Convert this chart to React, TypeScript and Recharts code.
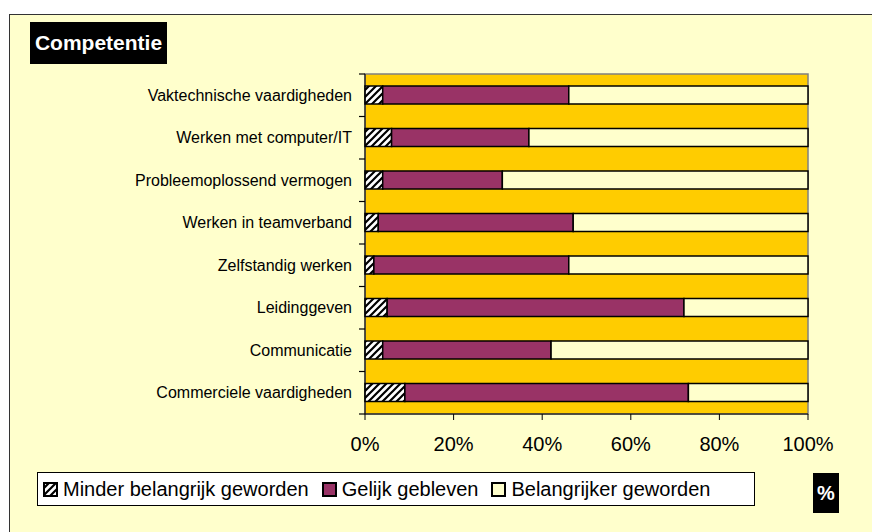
import React from 'react';
import { BarChart, Bar, XAxis, YAxis, ReferenceArea, Legend } from 'recharts';

const categories = [
  'Vaktechnische vaardigheden',
  'Werken met computer/IT',
  'Probleemoplossend vermogen',
  'Werken in teamverband',
  'Zelfstandig werken',
  'Leidinggeven',
  'Communicatie',
  'Commerciele vaardigheden',
];

const minderBelangrijk = [4, 6, 4, 3, 2, 5, 4, 9];
const gelijkGebleven = [42, 31, 27, 44, 44, 67, 38, 64];
const belangrijker = [54, 63, 69, 53, 54, 28, 58, 27];

const xTicks = [0, 20, 40, 60, 80, 100];

const seriesNames = ['Minder belangrijk geworden', 'Gelijk gebleven', 'Belangrijker geworden'];
const seriesKeys = ['minder', 'gelijk', 'meer'];
const seriesFills = ['url(#hatch)', '#993366', '#FFFFCC'];

const data = categories.map((name, i) => ({
  name,
  minder: minderBelangrijk[i],
  gelijk: gelijkGebleven[i],
  meer: belangrijker[i],
}));

const FONT = '"Liberation Sans", Arial, sans-serif';

// category labels plus small tick marks at the band borders (Excel style)
function CategoryTick(props: any) {
  const { x, y, payload, index } = props;
  const half = typeof payload.offset === 'number' && payload.offset > 0 ? payload.offset : 21.25;
  const axisX = x + 13;
  return (
    <g>
      <text x={x} y={y} dy="0.35em" textAnchor="end" fontSize={16} fill="#000" fontFamily={FONT}>
        {payload.value}
      </text>
      <path d={`M${axisX - 6},${y + half}H${axisX}`} stroke="#000" strokeWidth={1.2} fill="none" />
      {index === 0 && <path d={`M${axisX - 6},${y - half}H${axisX}`} stroke="#000" strokeWidth={1.2} fill="none" />}
    </g>
  );
}

function LegendBox(props: any) {
  const payload = props.payload || [];
  // keep the series order of the original legend
  const items = seriesKeys
    .map((k, i) => ({ key: k, fill: seriesFills[i], item: payload.find((p: any) => p.dataKey === k) }))
    .filter((d) => d.item);
  return (
    <div
      style={{
        background: '#fff',
        border: '1px solid #000',
        height: 32,
        width: 711,
        display: 'flex',
        alignItems: 'center',
        paddingLeft: 5,
        fontFamily: FONT,
        fontSize: 20,
        color: '#000',
        boxSizing: 'content-box',
      }}
    >
      {items.map((d) => (
        <span key={d.key} style={{ display: 'flex', alignItems: 'center', marginRight: 13 }}>
          <svg width={15} height={15} style={{ marginRight: 5 }}>
            <rect x={1} y={1} width={13} height={13} fill={d.fill} stroke="#000" strokeWidth={2} />
          </svg>
          {d.item.value}
        </span>
      ))}
    </div>
  );
}

export default function App() {
  return (
    <div style={{ position: 'absolute', left: 0, top: 0, width: 872, height: 532, background: '#fff', overflow: 'hidden' }}>
      <div
        style={{
          position: 'absolute',
          left: 9,
          top: 14,
          width: 900,
          height: 540,
          background: '#FFFFCC',
          border: '1px solid #333',
        }}
      />
      <div style={{ position: 'absolute', left: 0, top: 0 }}>
        <BarChart
          width={872}
          height={532}
          data={data}
          layout="vertical"
          barSize={18}
          margin={{ top: 74, right: 64, bottom: 78, left: 9 }}
        >
          <defs>
            <pattern id="hatch" patternUnits="userSpaceOnUse" width={7} height={7}>
              <rect width={7} height={7} fill="#fff" />
              <path d="M-1,1 l2,-2 M0,7 l7,-7 M6,8 l2,-2" stroke="#000" strokeWidth={2.2} />
            </pattern>
          </defs>
          <ReferenceArea x1={0} x2={100} fill="#FFCC00" fillOpacity={1} stroke="#808080" strokeWidth={1.5} />
          <XAxis
            type="number"
            domain={[0, 100]}
            ticks={xTicks}
            tickFormatter={(v) => `${v}%`}
            height={40}
            stroke="#000"
            tickSize={6}
            tickMargin={17}
            tick={{ fontSize: 20, fill: '#000', fontFamily: FONT }}
            interval={0}
          />
          <YAxis
            type="category"
            dataKey="name"
            width={356}
            stroke="#000"
            tickLine={false}
            tickSize={0}
            tickMargin={13}
            interval={0}
            tick={<CategoryTick />}
          />
          <Legend
            layout="horizontal"
            align="center"
            verticalAlign="middle"
            wrapperStyle={{ left: 37, top: 472, width: 'auto', height: 'auto' }}
            content={<LegendBox />}
          />
          {seriesKeys.map((k, i) => (
            <Bar
              key={k}
              dataKey={k}
              name={seriesNames[i]}
              stackId="a"
              fill={seriesFills[i]}
              stroke="#000"
              strokeWidth={1.5}
              isAnimationActive={false}
            />
          ))}
        </BarChart>
      </div>
      <div
        style={{
          position: 'absolute',
          left: 30,
          top: 22,
          width: 137,
          height: 42,
          background: '#000',
          color: '#fff',
          fontFamily: FONT,
          fontWeight: 'bold',
          fontSize: 21,
          lineHeight: '42px',
          textAlign: 'center',
        }}
      >
        Competentie
      </div>
      <div
        style={{
          position: 'absolute',
          left: 813,
          top: 473,
          width: 26,
          height: 40,
          background: '#000',
          color: '#fff',
          fontFamily: FONT,
          fontWeight: 'bold',
          fontSize: 20,
          lineHeight: '40px',
          textAlign: 'center',
        }}
      >
        %
      </div>
    </div>
  );
}
